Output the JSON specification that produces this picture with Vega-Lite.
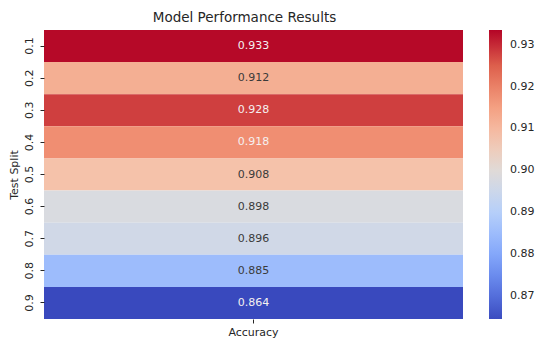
{
  "$schema": "https://vega.github.io/schema/vega-lite/v6.json",
  "autosize": {"type": "none"},
  "padding": {"left": 44, "top": 30, "right": 82, "bottom": 34},
  "width": 419,
  "height": 289,
  "background": "white",
  "config": {
    "font": "DejaVu Sans",
    "view": {"stroke": null},
    "axis": {"labelFont": "DejaVu Sans", "titleFont": "DejaVu Sans", "labelColor": "#262626", "titleColor": "#262626", "tickColor": "#262626", "labelFontSize": 11, "titleFontSize": 11, "titleFontWeight": "normal", "domain": false, "tickSize": 4}
  },
  "title": {"text": "Model Performance Results", "fontSize": 13.5, "fontWeight": "normal", "font": "DejaVu Sans", "color": "#262626", "anchor": "middle", "offset": 6, "dx": -9},
  "data": {"values": [
    {"split": "0.1", "metric": "Accuracy", "accuracy": 0.933},
    {"split": "0.2", "metric": "Accuracy", "accuracy": 0.912},
    {"split": "0.3", "metric": "Accuracy", "accuracy": 0.928},
    {"split": "0.4", "metric": "Accuracy", "accuracy": 0.918},
    {"split": "0.5", "metric": "Accuracy", "accuracy": 0.908},
    {"split": "0.6", "metric": "Accuracy", "accuracy": 0.898},
    {"split": "0.7", "metric": "Accuracy", "accuracy": 0.896},
    {"split": "0.8", "metric": "Accuracy", "accuracy": 0.885},
    {"split": "0.9", "metric": "Accuracy", "accuracy": 0.864}
  ]},
  "encoding": {
    "x": {"field": "metric", "type": "nominal", "title": null, "axis": {"labelAngle": 0, "labelPadding": 3}},
    "y": {"field": "split", "type": "nominal", "title": "Test Split", "axis": {"labelAngle": -90, "labelAlign": "center", "labelBaseline": "bottom", "labelPadding": 6, "titlePadding": 4}}
  },
  "layer": [
    {
      "mark": {"type": "rect"},
      "encoding": {
        "color": {
          "field": "accuracy", "type": "quantitative",
          "scale": {
            "domain": [0.8645, 0.873125, 0.88175, 0.890375, 0.899, 0.907625, 0.91625, 0.924875, 0.9335],
            "range": ["#3b4cc0", "#6282ea", "#8db0fe", "#b8d0f9", "#dddddd", "#f5c4ac", "#f49a7b", "#de604d", "#b40426"],
            "interpolate": "rgb"
          },
          "legend": {
            "title": null, "orient": "right", "offset": 26,
            "gradientLength": 289, "gradientThickness": 13,
            "values": [0.87, 0.88, 0.89, 0.90, 0.91, 0.92, 0.93],
            "format": ".2f", "labelFontSize": 11, "labelColor": "#262626", "labelFont": "DejaVu Sans",
            "labelOffset": 8, "gradientStrokeWidth": 0
          }
        }
      }
    },
    {
      "mark": {"type": "text", "fontSize": 11, "font": "DejaVu Sans"},
      "encoding": {
        "text": {"field": "accuracy", "type": "quantitative", "format": ".3f"},
        "color": {
          "condition": {"test": "datum.accuracy >= 0.915 || datum.accuracy < 0.875", "value": "#f5f0f0"},
          "value": "#3a3a3a"
        }
      }
    }
  ]
}
